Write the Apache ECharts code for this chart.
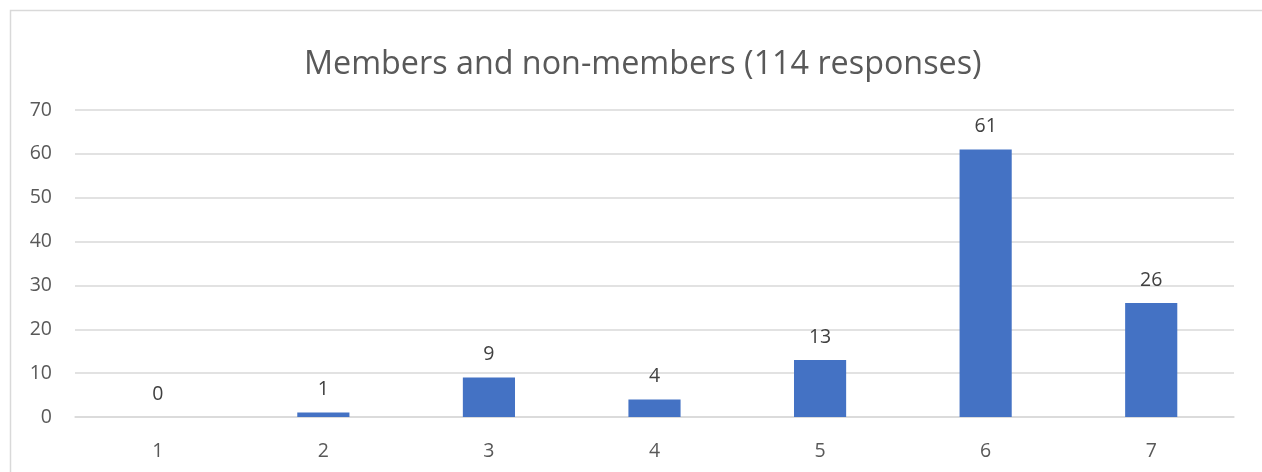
<!DOCTYPE html>
<html>
<head>
<meta charset="utf-8">
<script src="https://cdn.jsdelivr.net/npm/echarts@6/dist/echarts.min.js"></script>
<style>
html,body{margin:0;padding:0;background:#fff;}
#chart{width:1262px;height:472px;}
</style>
</head>
<body>
<div id="chart"></div>
<script>
const titleText = 'Members and non-members (114 responses)';
const categories = ['1', '2', '3', '4', '5', '6', '7'];
const values = [0, 1, 9, 4, 13, 61, 26];
const yTicks = { min: 0, max: 70, interval: 10 };

const chart = echarts.init(document.getElementById('chart'), null, { renderer: 'canvas' });
const FONT = '"Open Sans", sans-serif';
chart.setOption({
  backgroundColor: '#ffffff',
  animation: false,
  graphic: [{
    type: 'polyline',
    shape: { points: [[10.5, 480], [10.5, 10.5], [1270, 10.5]] },
    style: { fill: 'none', stroke: '#d9d9d9', lineWidth: 1.5 },
    silent: true, z: -1
  }],
  title: {
    text: titleText,
    left: 299,
    top: 44,
    textStyle: { fontFamily: FONT, fontSize: 32.3, fontWeight: 'normal', color: '#595959' }
  },
  grid: { left: 75, right: 28, top: 110, bottom: 55, containLabel: false },
  xAxis: {
    type: 'category',
    data: categories,
    axisLine: { show: true, lineStyle: { color: '#d9d9d9', width: 1.5 } },
    axisTick: { show: false },
    axisLabel: { color: '#595959', fontFamily: FONT, fontSize: 19.5, margin: 24 }
  },
  yAxis: {
    type: 'value',
    min: yTicks.min, max: yTicks.max, interval: yTicks.interval,
    axisLine: { show: false },
    axisTick: { show: false },
    splitLine: { lineStyle: { color: '#d9d9d9', width: 1.5 } },
    axisLabel: { color: '#595959', fontFamily: FONT, fontSize: 19.5, margin: 23 }
  },
  series: [{
    type: 'bar',
    data: values,
    barWidth: '31.5%',
    itemStyle: { color: '#4472c4' },
    label: {
      show: true, position: 'top', distance: 13,
      color: '#404040', fontFamily: FONT, fontSize: 19.5
    }
  }]
});
</script>
</body>
</html>
